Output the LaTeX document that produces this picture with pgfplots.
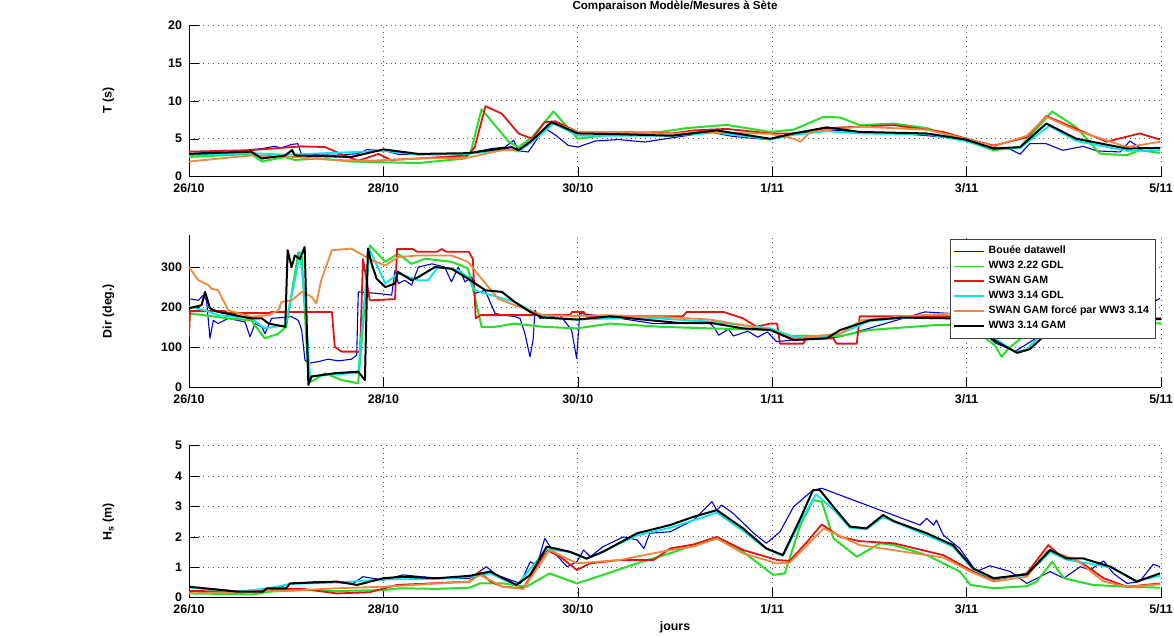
\documentclass[border=0pt]{standalone}
\usepackage{fontspec}
\setmainfont{Liberation Sans}
\usepackage{pgfplots}
\pgfplotsset{compat=1.18}

\definecolor{mblue}{RGB}{0,0,210}
\definecolor{mgreen}{RGB}{40,222,40}
\definecolor{mred}{RGB}{225,20,20}
\definecolor{mcyan}{RGB}{0,232,232}
\definecolor{morange}{RGB}{240,135,60}
\newcommand{\lab}{\fontsize{6.2}{7.4}\selectfont\bfseries}
\newcommand{\leg}{\fontsize{5.3}{6.2}\selectfont\bfseries}

\pgfplotsset{
  panel/.style={
    scale only axis, width=486pt, anchor=south west,
    xmin=0, xmax=10, xtick={0,2,4,6,8,10},
    xticklabels={26/10,28/10,30/10,1/11,3/11,5/11},
    axis x line*=bottom, axis y line*=left,
    axis line style={-}, every outer x axis line/.append style={-},
    every outer y axis line/.append style={-},
    tick align=inside, major tick length=5pt, tick style={black},
    grid=major, grid style={dotted, black!65, line width=0.4pt},
    tick label style={font=\lab}, label style={font=\lab},
    /pgf/number format/assume math mode=true,
    ylabel style={at={(axis description cs:-0.083,0.5)}, anchor=center},
    every axis plot/.append style={line join=round},
  },
  sb/.style={mblue, line width=0.55pt},
  sg/.style={mgreen, line width=1pt},
  sr/.style={mred, line width=0.9pt},
  sc/.style={mcyan, line width=0.9pt},
  so/.style={morange, line width=0.9pt},
  sk/.style={black, line width=1pt},
}

\begin{document}
\begin{tikzpicture}
\useasboundingbox (0,0) rectangle (587pt,318pt);

% ---------- periode T ----------
\begin{axis}[panel, at={(94.5pt,229.65pt)}, height=75.85pt,
  ymin=0, ymax=20, ytick={0,5,10,15,20}, ylabel={T (s)},
  title={Comparaison Modèle/Mesures à Sète},
  title style={font=\fontsize{5.8}{7}\selectfont\bfseries, yshift=-3pt}]
\addplot[sb] coordinates {(0,3.04) (0.2,3.2) (0.37,3.48) (0.5,3.3) (0.64,3.57) (0.75,3.7) (0.88,4.0) (0.95,3.8) (1.06,4.26) (1.12,4.35) (1.16,2.83) (1.3,2.9) (1.5,2.83) (1.74,3.04) (1.83,3.57) (2.02,3.4) (2.15,2.96) (2.5,2.9) (2.87,3.04) (2.94,3.26) (3.11,3.7) (3.25,3.9) (3.34,4.78) (3.39,3.4) (3.49,3.26) (3.66,6.43) (3.78,5.4) (3.9,4.13) (4.0,3.91) (4.18,4.7) (4.42,4.9) (4.69,4.57) (4.97,5.13) (5.36,5.87) (5.6,5.3) (5.98,4.87) (6.22,5.65) (6.56,6.17) (6.9,5.9) (7.25,5.74) (7.6,5.4) (7.93,5.0) (8.28,3.83) (8.45,3.6) (8.55,2.96) (8.65,4.35) (8.82,4.35) (8.99,3.48) (9.2,4.0) (9.34,3.4) (9.58,3.26) (9.68,4.7) (9.78,3.83) (9.99,3.83)};
\addplot[sg] coordinates {(0,2.6) (0.64,3.0) (0.75,2.0) (0.99,2.6) (1.09,2.2) (1.33,2.4) (1.67,2.0) (2.36,1.8) (2.84,2.4) (2.9,3.3) (3.01,8.9) (3.29,4.6) (3.39,3.9) (3.53,5.2) (3.75,8.6) (4.0,5.0) (4.42,5.7) (4.85,5.9) (5.12,6.4) (5.53,6.83) (5.98,5.9) (6.22,6.2) (6.53,7.9) (6.7,7.8) (6.9,6.8) (7.25,7.0) (7.59,6.4) (7.93,5.0) (8.28,3.48) (8.55,3.9) (8.88,8.6) (9.13,6.5) (9.37,3.04) (9.65,2.83) (9.78,3.48) (9.99,3.13)};
\addplot[sr] coordinates {(0,3.3) (0.64,3.5) (1.16,4.0) (1.4,3.9) (1.6,2.8) (1.74,2.1) (1.95,3.0) (2.08,2.2) (2.36,2.4) (2.87,2.8) (2.94,3.9) (3.05,9.3) (3.22,8.3) (3.39,5.7) (3.53,5.0) (3.66,7.2) (3.77,7.3) (4.0,5.9) (4.42,5.9) (4.97,5.7) (5.19,6.1) (5.53,6.3) (5.98,5.7) (6.22,5.7) (6.56,6.4) (7.25,6.8) (7.76,5.9) (8.0,5.0) (8.28,4.1) (8.62,5.2) (8.82,8.0) (9.13,6.3) (9.44,4.6) (9.78,5.7) (9.99,4.9)};
\addplot[sc] coordinates {(0,2.8) (0.64,3.1) (1.0,2.9) (2.0,3.4) (2.36,2.9) (2.87,3.0) (3.32,3.6) (3.39,3.3) (3.53,4.6) (3.75,7.0) (4.0,5.4) (4.42,5.4) (4.97,5.4) (5.43,5.8) (5.98,4.9) (6.22,5.5) (6.56,6.0) (6.9,5.7) (7.59,5.6) (7.99,4.7) (8.28,3.6) (8.55,3.8) (8.85,6.7) (9.13,4.7) (9.65,3.4) (9.99,3.5)};
\addplot[so] coordinates {(0,2.0) (0.64,2.8) (1.09,2.6) (1.5,2.2) (1.85,2.1) (2.36,2.4) (2.87,2.5) (3.22,3.5) (3.39,3.5) (3.53,4.8) (3.73,7.2) (4.0,5.9) (4.42,5.9) (4.97,5.65) (5.19,5.9) (5.98,5.65) (6.22,5.0) (6.29,4.6) (6.39,5.9) (6.9,6.6) (7.59,6.2) (7.99,5.0) (8.28,4.0) (8.62,5.4) (8.82,7.9) (9.13,6.1) (9.65,3.9) (9.99,4.6)};
\addplot[sk] coordinates {(0,3.0) (0.64,3.3) (0.75,2.4) (0.99,2.8) (1.06,3.5) (1.09,2.8) (1.67,2.6) (2.0,3.6) (2.36,3.0) (2.87,3.1) (3.32,3.9) (3.39,3.5) (3.53,4.8) (3.73,7.2) (4.0,5.7) (4.42,5.6) (4.97,5.4) (5.43,6.1) (5.98,5.0) (6.22,5.7) (6.56,6.5) (6.9,5.9) (7.59,5.7) (7.99,4.9) (8.28,3.7) (8.55,3.9) (8.82,7.0) (9.13,5.0) (9.65,3.7) (9.99,3.8)};
\end{axis}

% ---------- direction ----------
\begin{axis}[panel, at={(94.5pt,124.35pt)}, height=76.15pt,
  ymin=0, ymax=380, ytick={0,100,200,300}, ylabel={Dir (deg.)},
  legend style={at={(rel axis cs:0.995,0.975)}, anchor=north east,
    draw=black!75, fill=white, font=\leg, inner sep=1.4pt, row sep=-1.8pt,
    cells={anchor=west}},
  legend image code/.code={\draw[#1, line width=0.8pt] (0pt,0pt) -- (15pt,0pt);}]
\addplot[sb] coordinates {(0,221) (0.096,217) (0.147,230) (0.18,217) (0.216,122) (0.25,167) (0.3,159) (0.405,172) (0.576,163) (0.628,126) (0.679,159) (0.748,151) (0.782,134) (0.85,172) (1.056,176) (1.125,167) (1.159,143) (1.193,68) (1.228,60) (1.33,64) (1.43,70) (1.54,66) (1.67,70) (1.725,80) (1.742,238) (1.948,234) (2.085,230) (2.12,292) (2.154,259) (2.22,267) (2.29,255) (2.36,300) (2.5,308) (2.63,300) (2.7,263) (2.77,300) (2.84,263) (2.91,275) (2.94,234) (3.045,242) (3.15,184) (3.354,176) (3.405,172) (3.456,134) (3.508,76) (3.54,118) (3.56,192) (3.61,172) (3.816,180) (3.936,143) (3.988,72) (4.02,184) (4.33,176) (4.777,159) (5.36,159) (5.4,150) (5.45,130) (5.55,145) (5.6,128) (5.75,140) (5.85,125) (5.95,138) (6.045,114) (6.217,118) (6.7,126) (7.57,188) (7.85,184) (8.05,160) (8.3,110) (8.5,90) (8.7,120) (9.0,160) (9.5,190) (9.9,210) (9.99,222)};
\addplot[sg] coordinates {(0,184) (0.15,180) (0.4,172) (0.64,167) (0.78,122) (0.92,134) (1.0,151) (1.125,337) (1.16,325) (1.228,27) (1.26,14) (1.4,35) (1.57,18) (1.74,10) (1.86,354) (2.02,313) (2.15,333) (2.29,308) (2.43,321) (2.7,313) (2.8,304) (2.87,296) (2.94,226) (3.01,151) (3.15,151) (3.35,159) (3.64,151) (3.99,147) (4.33,159) (4.85,151) (5.36,147) (5.98,143) (6.15,128) (6.7,128) (7.0,143) (7.67,155) (8.0,157) (8.29,105) (8.36,76) (8.43,97) (8.6,130) (9.0,150) (9.5,155) (10,160)};
\addplot[sr] coordinates {(0,126) (0.01,190) (0.37,190) (0.4,185) (0.82,185) (0.85,188) (1.47,188) (1.5,101) (1.57,89) (1.76,89) (1.79,320) (1.86,217) (2.12,220) (2.14,345) (2.3,345) (2.35,338) (2.55,338) (2.6,345) (2.65,338) (2.88,338) (2.92,320) (2.95,172) (3.0,180) (3.92,180) (3.94,188) (4.06,188) (4.09,177) (5.08,177) (5.12,188) (5.5,188) (5.7,172) (5.84,151) (5.98,159) (6.05,159) (6.08,109) (6.32,109) (6.35,122) (6.63,122) (6.66,109) (6.87,109) (6.9,177) (8.0,177) (10,172)};
\addplot[sc] coordinates {(0,201) (0.165,192) (0.3,180) (0.64,172) (0.78,147) (0.99,155) (1.09,267) (1.14,337) (1.19,226) (1.245,27) (1.67,35) (1.74,35) (1.81,234) (1.86,342) (2.02,259) (2.15,284) (2.36,267) (2.46,267) (2.56,300) (2.77,292) (2.87,275) (2.94,242) (3.05,234) (3.35,213) (3.64,176) (3.99,169) (4.67,174) (5.36,164) (5.98,147) (6.22,126) (6.56,126) (6.7,134) (7.0,165) (7.33,173) (7.85,172) (8.0,165) (8.3,120) (8.5,88) (8.62,95) (8.8,140) (9.2,165) (10,170)};
\addplot[so] coordinates {(0,300) (0.096,267) (0.2,255) (0.23,246) (0.3,242) (0.405,192) (0.64,176) (0.82,180) (0.92,192) (0.95,213) (1.06,217) (1.16,238) (1.26,226) (1.31,209) (1.36,267) (1.47,342) (1.67,346) (1.88,317) (2.02,304) (2.15,325) (2.36,329) (2.7,329) (2.87,313) (3.05,259) (3.18,221) (3.35,205) (3.64,180) (3.99,178) (4.33,180) (5.0,174) (5.36,169) (5.7,155) (5.98,143) (6.22,122) (6.7,134) (6.92,167) (7.33,177) (7.85,184) (8.0,180) (8.5,175) (10,172)};
\addplot[sk] coordinates {(0,197) (0.13,205) (0.165,238) (0.216,197) (0.3,188) (0.64,172) (0.75,172) (0.82,159) (0.99,151) (1.015,342) (1.055,300) (1.09,329) (1.14,320) (1.19,350) (1.228,6) (1.26,27) (1.5,35) (1.74,39) (1.81,18) (1.84,346) (1.88,308) (1.93,271) (2.02,250) (2.12,259) (2.15,288) (2.29,267) (2.36,275) (2.53,300) (2.7,296) (2.87,271) (3.05,242) (3.22,238) (3.35,213) (3.51,188) (3.64,174) (3.99,169) (4.33,177) (5.02,161) (5.36,161) (5.7,147) (5.98,143) (6.22,118) (6.56,122) (6.7,143) (7.0,167) (7.33,174) (7.85,172) (8.0,165) (8.3,115) (8.52,86) (8.65,95) (8.85,140) (9.2,168) (10,170)};
\legend{Bouée datawell, WW3 2.22 GDL, SWAN GAM, WW3 3.14 GDL, SWAN GAM forcé par WW3 3.14, WW3 3.14 GAM}
\end{axis}

% ---------- hauteur Hs ----------
\begin{axis}[panel, at={(94.5pt,19.15pt)}, height=76pt,
  ymin=0, ymax=5, ytick={0,1,2,3,4,5}, ylabel={H\textsubscript{s} (m)},
  xlabel={jours}, xlabel style={yshift=3pt}]
\addplot[sb] coordinates {(0,0.36) (0.147,0.31) (0.49,0.22) (0.83,0.2) (1.04,0.47) (1.35,0.53) (1.69,0.47) (1.79,0.69) (2.0,0.58) (2.2,0.75) (2.55,0.64) (2.89,0.64) (3.06,1.02) (3.16,0.75) (3.41,0.47) (3.51,1.18) (3.58,1.07) (3.66,1.95) (3.75,1.51) (3.89,1.02) (3.99,1.18) (4.06,1.57) (4.13,1.35) (4.26,1.68) (4.47,2.0) (4.61,1.9) (4.68,1.62) (4.74,2.12) (4.95,2.17) (5.19,2.55) (5.38,3.16) (5.43,2.88) (5.48,3.05) (5.6,2.77) (5.81,2.12) (5.94,1.79) (6.08,2.17) (6.22,2.99) (6.32,3.27) (6.42,3.54) (6.51,3.6) (7.52,2.39) (7.59,2.61) (7.66,2.39) (7.69,2.55) (7.76,2.06) (7.93,1.62) (8.1,0.86) (8.24,1.05) (8.45,0.86) (8.62,0.47) (8.86,0.86) (9.0,0.64) (9.17,1.02) (9.27,0.91) (9.41,1.21) (9.51,0.8) (9.65,0.47) (9.78,0.53) (9.92,1.1) (9.99,1.02)};
\addplot[sg] coordinates {(0,0.14) (0.66,0.11) (0.83,0.2) (1.17,0.25) (1.52,0.22) (2.0,0.25) (2.17,0.31) (2.55,0.29) (2.89,0.33) (2.99,0.47) (3.23,0.47) (3.47,0.36) (3.71,0.8) (3.99,0.47) (4.26,0.75) (4.61,1.13) (4.95,1.46) (5.19,1.73) (5.43,1.95) (5.7,1.51) (6.01,0.75) (6.13,0.8) (6.29,2.39) (6.42,3.21) (6.51,3.16) (6.63,1.95) (6.87,1.35) (7.11,1.79) (7.25,1.73) (7.59,1.4) (7.93,0.86) (8.04,0.42) (8.28,0.31) (8.62,0.38) (8.72,0.53) (8.88,1.18) (9.0,0.64) (9.3,0.42) (9.65,0.36) (9.99,0.33)};
\addplot[sr] coordinates {(0,0.22) (0.66,0.2) (1.0,0.29) (1.17,0.29) (1.52,0.14) (1.86,0.18) (2.14,0.42) (2.89,0.53) (2.99,0.86) (3.1,0.53) (3.23,0.36) (3.44,0.31) (3.68,1.57) (3.82,1.35) (3.99,0.91) (4.13,1.13) (4.43,1.24) (4.78,1.24) (4.95,1.62) (5.19,1.75) (5.43,2.0) (5.7,1.57) (6.05,1.24) (6.18,1.21) (6.36,1.84) (6.51,2.41) (6.7,2.0) (6.9,1.86) (7.25,1.79) (7.76,1.4) (8.04,0.91) (8.28,0.58) (8.62,0.8) (8.84,1.73) (9.0,1.29) (9.17,1.18) (9.41,0.64) (9.65,0.36) (9.99,0.47)};
\addplot[sc] coordinates {(0,0.33) (0.49,0.2) (0.8,0.3) (1.04,0.45) (1.52,0.5) (2.0,0.6) (2.55,0.62) (2.89,0.68) (3.1,0.8) (3.37,0.4) (3.68,1.6) (3.92,1.5) (4.09,1.27) (4.61,2.05) (4.95,2.3) (5.43,2.8) (5.7,2.2) (5.94,1.6) (6.11,1.38) (6.29,2.5) (6.45,3.4) (6.63,2.9) (6.8,2.3) (6.97,2.25) (7.14,2.65) (7.59,2.05) (7.86,1.68) (8.07,0.92) (8.28,0.62) (8.62,0.75) (8.86,1.5) (9.03,1.25) (9.48,1.0) (9.75,0.55) (9.99,0.72)};
\addplot[so] coordinates {(0,0.14) (1.17,0.25) (1.52,0.31) (2.0,0.36) (2.89,0.53) (2.99,0.75) (3.23,0.36) (3.44,0.29) (3.71,1.57) (3.99,1.13) (4.43,1.24) (4.95,1.57) (5.19,1.68) (5.43,1.95) (5.7,1.46) (6.05,1.13) (6.18,1.15) (6.53,2.28) (6.9,1.73) (7.76,1.32) (8.04,0.86) (8.28,0.53) (8.62,0.69) (8.84,1.57) (9.13,1.24) (9.41,0.53) (9.65,0.36) (9.99,0.44)};
\addplot[sk] coordinates {(0,0.36) (0.22,0.29) (0.49,0.2) (0.76,0.2) (0.8,0.31) (1.0,0.31) (1.04,0.47) (1.52,0.53) (1.73,0.42) (2.0,0.64) (2.2,0.69) (2.55,0.64) (2.89,0.72) (3.1,0.86) (3.23,0.64) (3.37,0.42) (3.51,0.75) (3.68,1.68) (3.92,1.51) (4.09,1.29) (4.26,1.51) (4.61,2.12) (4.95,2.39) (5.19,2.66) (5.43,2.88) (5.7,2.28) (5.94,1.62) (6.11,1.4) (6.29,2.61) (6.42,3.54) (6.49,3.54) (6.63,2.99) (6.8,2.34) (6.97,2.28) (7.14,2.72) (7.25,2.52) (7.59,2.12) (7.86,1.73) (8.07,0.96) (8.28,0.64) (8.62,0.77) (8.86,1.57) (9.03,1.29) (9.2,1.29) (9.48,1.02) (9.75,0.53) (9.99,0.8)};
\end{axis}
\end{tikzpicture}
\end{document}
